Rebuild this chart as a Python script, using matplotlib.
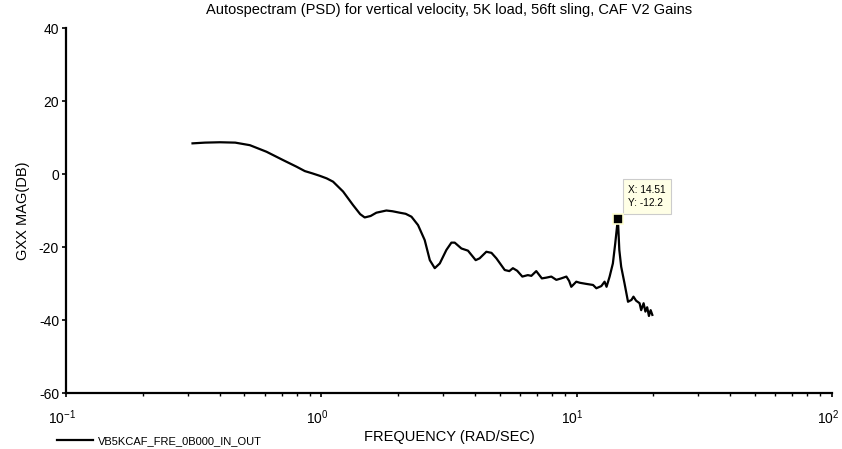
#!/usr/bin/env python3
"""Autospectrum (PSD) plot of vertical velocity, redrawn from the reference figure."""
import matplotlib

matplotlib.use("Agg")
import matplotlib.pyplot as plt
import matplotlib.transforms as mtransforms
from matplotlib.lines import Line2D

# frequency (rad/sec) and magnitude (dB)
freq = [
    0.313, 0.35, 0.401, 0.46, 0.525, 0.61, 0.709, 0.80, 0.862, 0.92, 0.987,
    1.05, 1.112, 1.217, 1.331, 1.42, 1.479, 1.56, 1.643, 1.798, 1.90, 2.028,
    2.14, 2.255, 2.393, 2.541, 2.661, 2.782, 2.911, 3.09, 3.233, 3.331, 3.538,
    3.754, 4.024, 4.17, 4.43, 4.64, 4.85, 5.23, 5.45, 5.63, 5.85, 6.13, 6.44,
    6.65, 6.95, 7.31, 7.6, 7.96, 8.33, 8.7, 9.12, 9.35, 9.53, 9.75, 9.97,
    10.3, 10.9, 11.6, 11.95, 12.5, 12.87, 13.1, 13.47, 13.87, 14.17, 14.51,
    14.7, 14.95, 15.4, 15.9, 16.4, 16.7, 17.1, 17.65, 17.9, 18.3, 18.6,
    18.9, 19.2, 19.5, 19.8,
]
mag_db = [
    8.4, 8.6, 8.7, 8.6, 7.9, 6.1, 3.8, 2.0, 0.8, 0.2, -0.5,
    -1.2, -2.1, -4.8, -8.5, -11.0, -11.9, -11.5, -10.6, -10.0, -10.2, -10.6,
    -10.9, -11.7, -14.0, -18.1, -23.6, -25.8, -24.5, -20.8, -18.8, -18.8, -20.4,
    -21.0, -23.6, -23.1, -21.3, -21.6, -23.1, -26.3, -26.6, -25.8, -26.5, -28.1, -27.7,
    -27.9, -26.6, -28.6, -28.4, -28.1, -29.0, -28.6, -28.1, -29.3, -30.9, -30.2, -29.5,
    -29.8, -30.1, -30.4, -31.3, -30.7, -29.5, -30.9, -28.1, -24.5, -19.0, -12.2,
    -20.8, -25.4, -29.9, -35.0, -34.5, -33.6, -34.7, -35.4, -37.3, -35.4, -37.7,
    -36.5, -38.9, -37.3, -38.6,
]

peak_freq = 14.51
peak_db = -12.2

title = "Autospectram (PSD) for vertical velocity, 5K load, 56ft sling, CAF V2 Gains"
legend_label = "VB5KCAF_FRE_0B000_IN_OUT"

plt.rcParams["font.family"] = ["Liberation Sans", "DejaVu Sans"]
plt.rcParams["axes.unicode_minus"] = False

fig = plt.figure(figsize=(8.42, 4.49), dpi=100)
ax = fig.add_axes([0.0784, 0.1247, 0.9096, 0.8129])

ax.semilogx(freq, mag_db, color="black", linewidth=1.6)
ax.set_xlim(0.1, 100)
ax.set_ylim(-60, 40)
ax.set_yticks([-60, -40, -20, 0, 20, 40])

for side in ("top", "right"):
    ax.spines[side].set_visible(False)
for side in ("left", "bottom"):
    ax.spines[side].set_linewidth(1.6)

ax.tick_params(axis="both", which="major", direction="out", length=3, width=1.2)
ax.tick_params(axis="y", labelsize=10, pad=2)
ax.tick_params(axis="x", labelsize=10, pad=8)
ax.tick_params(axis="x", which="minor", direction="out", length=2, width=1.0)

# the "10" part of each decade label sits just left of its tick
shift = mtransforms.ScaledTranslation(-3 / 72, 0, fig.dpi_scale_trans)
for lbl in ax.get_xticklabels():
    lbl.set_transform(lbl.get_transform() + shift)

ax.set_title(title, fontsize=10.5, pad=10)
ax.set_xlabel("FREQUENCY (RAD/SEC)", fontsize=10.5, labelpad=2)
ax.set_ylabel("GXX MAG(DB)", fontsize=10.5, labelpad=6)

# data tip on the peak
ax.plot([peak_freq], [peak_db], marker="s", markersize=6.5, color="black",
        markeredgecolor="#ffffd0", markeredgewidth=1.2, zorder=5)
ax.annotate(f"X: {peak_freq}\nY: {peak_db}", xy=(peak_freq, peak_db),
            xytext=(7.5, 7.5), textcoords="offset points", fontsize=7.3,
            va="bottom", ha="left", linespacing=1.45,
            bbox=dict(boxstyle="square,pad=0.55", facecolor="#ffffe6",
                      edgecolor="#cccccc", linewidth=0.8))

handle = Line2D([], [], color="black", linewidth=1.6)
fig.legend([handle], [legend_label], loc="lower left",
           bbox_to_anchor=(0.056, -0.016), frameon=False, fontsize=8,
           handlelength=3.2, handletextpad=0.5)

fig.savefig("out.png", dpi=100)
